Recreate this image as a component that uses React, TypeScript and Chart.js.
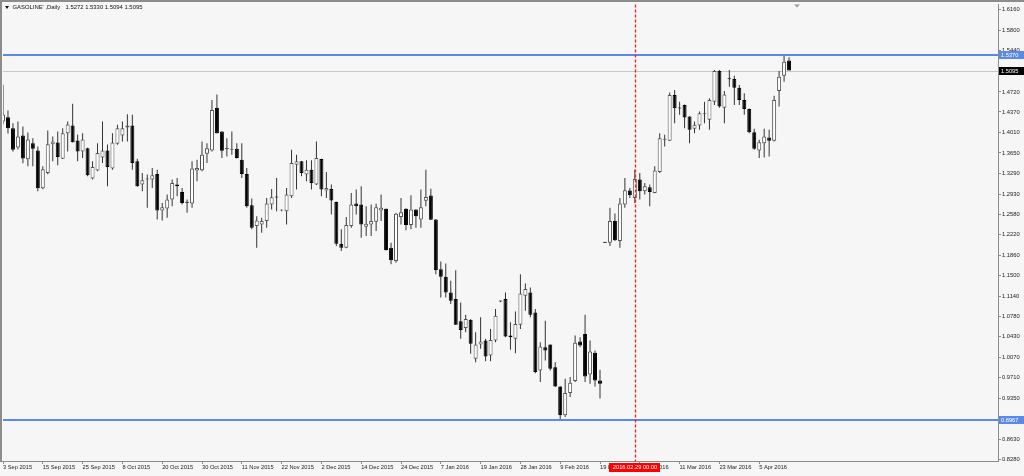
import React, { useEffect, useRef } from 'react';
import { Chart, registerables } from 'chart.js';

Chart.register(...registerables);

const FONT = "'Liberation Sans', Arial, sans-serif";

// ---- text ----
const chartTitle = "GASOLINE' ,Daily";
const titleQuote = ['1.5272', '1.5330', '1.5094', '1.5095'];

// ---- x axis ----
const slotCount = 201; // bars + empty right shift area
const xTickEvery = 8;
const xTickLabels = [
  '3 Sep 2015', '15 Sep 2015', '25 Sep 2015', '8 Oct 2015', '20 Oct 2015', '30 Oct 2015',
  '11 Nov 2015', '22 Nov 2015', '2 Dec 2015', '14 Dec 2015', '24 Dec 2015', '7 Jan 2016',
  '19 Jan 2016', '28 Jan 2016', '9 Feb 2016', '19 Feb 2016', '1 Mar 2016', '11 Mar 2016',
  '23 Mar 2016', '5 Apr 2016',
];

// ---- y axis ----
const yMin = 0.8251;
const yMax = 1.6253;
const yTickValues = [
  1.616, 1.58, 1.544, 1.508, 1.472, 1.437, 1.401, 1.365, 1.329, 1.293, 1.258, 1.222,
  1.186, 1.15, 1.114, 1.078, 1.043, 1.007, 0.971, 0.935, 0.899, 0.863, 0.828,
];

// ---- OHLC series ----
const openPrices = [
  1.4201, 1.4276, 1.4084, 1.3747, 1.3957, 1.3538, 1.3822, 1.3695, 1.3032, 1.3299,
  1.3805, 1.3835, 1.3550, 1.3997, 1.4131, 1.3869, 1.3678, 1.3735, 1.3201, 1.3341,
  1.3573, 1.3695, 1.3376, 1.3812, 1.3957, 1.4096, 1.4131, 1.3503, 1.3096, 1.3184,
  1.3184, 1.3281, 1.2643, 1.2678, 1.2835, 1.3096, 1.2967, 1.2788, 1.2765, 1.3341,
  1.3346, 1.3637, 1.3695, 1.4445, 1.4027, 1.3718, 1.3707, 1.3725, 1.3533, 1.3281,
  1.2735, 1.2369, 1.2398, 1.2456, 1.2747, 1.2875, 1.2643, 1.2630, 1.2892, 1.3445,
  1.3503, 1.3271, 1.3358, 1.3096, 1.3543, 1.2992, 1.3020, 1.2793, 1.2060, 1.1990,
  1.2369, 1.2765, 1.2747, 1.2357, 1.2398, 1.2444, 1.2643, 1.2671, 1.1990, 1.1758,
  1.2526, 1.2671, 1.2386, 1.2660, 1.2486, 1.2814, 1.2905, 1.2486, 1.1613, 1.1479,
  1.1205, 1.1090, 1.0699, 1.0584, 1.0728, 1.0043, 1.0292, 1.0362, 1.0100, 1.0362,
  1.1052, 1.1090, 1.0449, 1.0392, 1.0641, 1.1147, 1.1205, 1.0856, 0.9838, 1.0245,
  1.0292, 0.9896, 0.9559, 0.9053, 0.9442, 0.9652, 1.0345, 1.0479, 0.9769, 1.0147,
  0.9664, 1.2080, 1.2077, 1.2456, 1.2107, 1.2747, 1.2992, 1.2863, 1.3184, 1.2980,
  1.3049, 1.2950, 1.3316, 1.3882, 1.3864, 1.4667, 1.4433, 1.4492, 1.4288, 1.4074,
  1.4131, 1.4328, 1.4231, 1.4550, 1.5086, 1.4445, 1.4946, 1.4946, 1.4794, 1.4580,
  1.4423, 1.4014, 1.3695, 1.3822, 1.3922, 1.3864, 1.4737, 1.5004, 1.5272,
];
const highPrices = [
  1.4847, 1.4393, 1.4171, 1.4201, 1.4114, 1.4009, 1.3910, 1.3765, 1.3416, 1.4044,
  1.3939, 1.4027, 1.4084, 1.4201, 1.4515, 1.3974, 1.3997, 1.3740, 1.3503, 1.3822,
  1.4201, 1.3800, 1.3997, 1.4143, 1.4201, 1.4328, 1.4318, 1.3550, 1.3299, 1.3271,
  1.3386, 1.3358, 1.2775, 1.2922, 1.3184, 1.3212, 1.3037, 1.2835, 1.3503, 1.3533,
  1.3852, 1.3822, 1.4580, 1.4677, 1.4030, 1.3910, 1.4027, 1.3822, 1.3822, 1.3386,
  1.2852, 1.2543, 1.2514, 1.2863, 1.3020, 1.3212, 1.2657, 1.3037, 1.3707, 1.3620,
  1.3510, 1.3521, 1.3521, 1.3852, 1.3550, 1.3316, 1.3096, 1.2800, 1.2311, 1.2526,
  1.2950, 1.3009, 1.3067, 1.2718, 1.2747, 1.2758, 1.2922, 1.2675, 1.2077, 1.2601,
  1.2863, 1.2683, 1.2910, 1.2665, 1.3009, 1.3358, 1.3023, 1.2491, 1.1746, 1.1711,
  1.1409, 1.1596, 1.1030, 1.0816, 1.0735, 1.0507, 1.0769, 1.0392, 1.0566, 1.0915,
  1.1060, 1.1205, 1.0681, 1.0873, 1.1526, 1.1362, 1.1292, 1.0915, 1.0332, 1.0711,
  1.0295, 0.9983, 0.9565, 0.9694, 0.9722, 1.0449, 1.0420, 1.0816, 1.0362, 1.0188,
  0.9851, 1.2085, 1.2688, 1.2590, 1.2863, 1.3212, 1.3037, 1.3358, 1.3299, 1.3124,
  1.3096, 1.3416, 1.3997, 1.3969, 1.4712, 1.4754, 1.4550, 1.4498, 1.4293, 1.4201,
  1.4376, 1.4550, 1.4608, 1.5103, 1.5103, 1.4737, 1.5103, 1.5004, 1.4841, 1.4695,
  1.4428, 1.4074, 1.3882, 1.4074, 1.4056, 1.4655, 1.5086, 1.5370, 1.5330,
];
const lowPrices = [
  1.4149, 1.3992, 1.3678, 1.3712, 1.3468, 1.3416, 1.3416, 1.2980, 1.3014, 1.3276,
  1.3503, 1.3433, 1.3545, 1.3678, 1.3835, 1.3503, 1.3561, 1.3241, 1.3184, 1.3329,
  1.3473, 1.3067, 1.3358, 1.3794, 1.3852, 1.3852, 1.3358, 1.3060, 1.2980, 1.2688,
  1.3037, 1.2486, 1.2468, 1.2514, 1.2718, 1.2892, 1.2747, 1.2601, 1.2688, 1.3154,
  1.3329, 1.3473, 1.3678, 1.3990, 1.3561, 1.3590, 1.3620, 1.3555, 1.3212, 1.2688,
  1.2311, 1.1990, 1.2252, 1.2339, 1.2660, 1.2630, 1.2630, 1.2398, 1.2863, 1.3009,
  1.3241, 1.3154, 1.3009, 1.3090, 1.2892, 1.2863, 1.2573, 1.2020, 1.1932, 1.1980,
  1.2339, 1.2573, 1.2165, 1.2194, 1.2194, 1.2282, 1.2456, 1.1940, 1.1700, 1.1728,
  1.2398, 1.2294, 1.2311, 1.2339, 1.2339, 1.2718, 1.2474, 1.1526, 1.1118, 1.1118,
  1.1002, 1.0636, 1.0392, 1.0507, 1.0130, 0.9983, 1.0217, 1.0001, 1.0001, 1.0333,
  1.1040, 1.0420, 1.0200, 1.0140, 1.0566, 1.0885, 1.0769, 0.9791, 0.9634, 1.0013,
  0.9838, 0.9547, 0.8967, 0.9024, 0.9373, 0.9634, 1.0245, 0.9634, 0.9606, 0.9559,
  0.9345, 1.2070, 1.2020, 1.2107, 1.1990, 1.2688, 1.2863, 1.2775, 1.2835, 1.2922,
  1.2718, 1.2945, 1.3299, 1.3765, 1.3860, 1.4171, 1.4318, 1.4084, 1.3822, 1.3997,
  1.4056, 1.4171, 1.4056, 1.4492, 1.4445, 1.4171, 1.4812, 1.4492, 1.4492, 1.4318,
  1.3997, 1.3707, 1.3561, 1.3573, 1.3590, 1.3852, 1.4463, 1.4899, 1.5094,
];
const closePrices = [
  1.4323, 1.4084, 1.3707, 1.3939, 1.3555, 1.3887, 1.3725, 1.3032, 1.3363, 1.3805,
  1.3852, 1.3578, 1.3997, 1.4149, 1.3840, 1.3678, 1.3887, 1.3259, 1.3404, 1.3648,
  1.3695, 1.3404, 1.3835, 1.4084, 1.4084, 1.4131, 1.3473, 1.3067, 1.3171, 1.3190,
  1.3259, 1.2643, 1.2700, 1.2835, 1.3124, 1.3067, 1.2775, 1.2779, 1.3376, 1.3386,
  1.3620, 1.3735, 1.4405, 1.3997, 1.3690, 1.3721, 1.3713, 1.3561, 1.3281, 1.2718,
  1.2339, 1.2468, 1.2456, 1.2765, 1.2875, 1.2870, 1.2648, 1.2922, 1.3473, 1.3503,
  1.3299, 1.3358, 1.3124, 1.3561, 1.3009, 1.3037, 1.2817, 1.2060, 1.1990, 1.2386,
  1.2747, 1.2718, 1.2398, 1.2409, 1.2456, 1.2700, 1.2688, 1.1945, 1.1770, 1.2583,
  1.2613, 1.2386, 1.2660, 1.2543, 1.2700, 1.2880, 1.2479, 1.1601, 1.1479, 1.1205,
  1.1060, 1.0641, 1.0549, 1.0741, 1.0304, 1.0292, 1.0345, 1.0083, 1.0374, 1.0798,
  1.1048, 1.0432, 1.0420, 1.0653, 1.1188, 1.1264, 1.0816, 0.9809, 1.0257, 1.0188,
  0.9868, 0.9559, 0.9053, 0.9442, 0.9624, 1.0322, 1.0275, 0.9734, 1.0170, 0.9664,
  0.9606, 1.2075, 1.2456, 1.2119, 1.2765, 1.2997, 1.2910, 1.3194, 1.2980, 1.3067,
  1.2967, 1.3341, 1.3910, 1.3887, 1.4667, 1.4433, 1.4428, 1.4271, 1.4056, 1.4143,
  1.4346, 1.4332, 1.4580, 1.5086, 1.4463, 1.4677, 1.4943, 1.4794, 1.4580, 1.4423,
  1.4014, 1.3725, 1.3840, 1.3939, 1.3864, 1.4580, 1.4986, 1.5248, 1.5095,
];

// ---- objects on chart ----
const levelLines = [1.537, 0.8967];
const bidPrice = 1.5095;
const markerIndex = 127;
const markerLabel = '2016.02.29 00:00';
const shiftMarkerIndex = 160;

const BLUE = '#5b89e6';

const mt4Plugin = {
  id: 'mt4',
  beforeDraw(chart: any) {
    const { ctx, width, height } = chart;
    ctx.save();
    ctx.fillStyle = '#f6f6f6';
    ctx.fillRect(0, 0, width, height);
    ctx.restore();
  },
  beforeDatasetsDraw(chart: any) {
    const { ctx, chartArea: a, scales } = chart;
    const py = Math.round(scales.y.getPixelForValue(bidPrice)) + 0.5;
    ctx.save();
    ctx.strokeStyle = '#c6c6c6';
    ctx.lineWidth = 1;
    ctx.beginPath();
    ctx.moveTo(a.left, py);
    ctx.lineTo(a.right, py);
    ctx.stroke();
    ctx.restore();
  },
  afterDatasetsDraw(chart: any) {
    const { ctx, chartArea: a, scales } = chart;
    ctx.save();
    ctx.strokeStyle = BLUE;
    ctx.lineWidth = 2;
    for (const v of levelLines) {
      const py = Math.round(scales.y.getPixelForValue(v));
      ctx.beginPath();
      ctx.moveTo(a.left, py);
      ctx.lineTo(a.right, py);
      ctx.stroke();
    }
    const mx = Math.round(scales.x.getPixelForValue(markerIndex)) + 0.5;
    ctx.strokeStyle = '#ff1a1a';
    ctx.lineWidth = 1.3;
    ctx.setLineDash([3, 2]);
    ctx.beginPath();
    ctx.moveTo(mx, a.top);
    ctx.lineTo(mx, a.bottom);
    ctx.stroke();
    ctx.restore();
  },
  afterDraw(chart: any) {
    const { ctx, chartArea: a, scales, width } = chart;
    ctx.save();
    // frame
    ctx.fillStyle = '#8c8c8c';
    ctx.fillRect(0, 0, width, 2);
    ctx.fillRect(0, 0, 2, a.bottom + 1);
    ctx.fillRect(0, a.bottom, a.left, 1);

    // price boxes on the right axis
    const boxes: [number, string][] = [
      [levelLines[0], BLUE],
      [bidPrice, '#000000'],
      [levelLines[1], BLUE],
    ];
    ctx.font = `5.7px ${FONT}`;
    ctx.textBaseline = 'middle';
    ctx.textAlign = 'left';
    for (const [v, c] of boxes) {
      const py = scales.y.getPixelForValue(v);
      ctx.fillStyle = c;
      ctx.fillRect(a.right + 1, Math.round(py) - 4, 25, 8);
      ctx.fillStyle = '#ffffff';
      ctx.fillText(v.toFixed(4), a.right + 3, Math.round(py));
    }

    // time marker label
    const mx = scales.x.getPixelForValue(markerIndex);
    ctx.fillStyle = '#ff0000';
    ctx.fillRect(Math.round(mx) - 26, a.bottom + 2, 51, 9);
    ctx.fillStyle = '#ffffff';
    ctx.textAlign = 'center';
    ctx.fillText(markerLabel, Math.round(mx), a.bottom + 6.5);

    // title
    ctx.fillStyle = '#111';
    ctx.beginPath();
    ctx.moveTo(5, 6);
    ctx.lineTo(9, 6);
    ctx.lineTo(7, 9);
    ctx.closePath();
    ctx.fill();
    ctx.font = `5.9px ${FONT}`;
    ctx.textAlign = 'left';
    ctx.fillText(chartTitle, 12.5, 7.5);
    ctx.fillText(titleQuote.join(' '), 65.5, 7.5);

    // chart shift marker
    const sx = scales.x.getPixelForValue(shiftMarkerIndex) - 2;
    ctx.fillStyle = '#9a9a9a';
    ctx.beginPath();
    ctx.moveTo(sx - 3, a.top);
    ctx.lineTo(sx + 3, a.top);
    ctx.lineTo(sx, a.top + 3);
    ctx.closePath();
    ctx.fill();
    ctx.restore();
  },
};

export default function App() {
  const canvasRef = useRef<HTMLCanvasElement | null>(null);

  useEffect(() => {
    const canvas = canvasRef.current;
    if (!canvas) return;
    const labels = Array.from({ length: slotCount }, (_, i) => String(i));
    const bodies = openPrices.map((o, i) => [o, closePrices[i]]);
    const wicks = lowPrices.map((l, i) => [l, highPrices[i]]);
    const bodyFill = openPrices.map((o, i) => (closePrices[i] >= o ? '#ffffff' : '#000000'));
    const bodyBorder = openPrices.map((o, i) => (closePrices[i] >= o ? '#555555' : '#000000'));

    const chart = new Chart(canvas, {
      type: 'bar',
      data: {
        labels,
        datasets: [
          {
            label: 'body',
            data: bodies as any,
            backgroundColor: bodyFill,
            borderColor: bodyBorder,
            borderWidth: 1,
            borderSkipped: false,
            barThickness: 4,
            minBarLength: 1,
            grouped: false,
            inflateAmount: 0,
            order: 0,
          } as any,
          {
            label: 'wick',
            data: wicks as any,
            backgroundColor: '#333333',
            borderWidth: 0,
            barThickness: 1,
            minBarLength: 1,
            grouped: false,
            inflateAmount: 0,
            order: 1,
          } as any,
        ],
      },
      options: {
        responsive: false,
        animation: false,
        devicePixelRatio: 1,
        layout: { padding: { left: 3, top: 3, right: 0, bottom: 0 } },
        plugins: {
          legend: { display: false },
          tooltip: { enabled: false },
        },
        scales: {
          x: {
            type: 'category',
            offset: false,
            grid: {
              display: true,
              offset: false,
              drawOnChartArea: false,
              drawTicks: true,
              tickLength: 3,
              color: '#8c8c8c',
            },
            border: { display: true, color: '#8c8c8c' },
            ticks: {
              autoSkip: false,
              maxRotation: 0,
              minRotation: 0,
              align: 'start',
              padding: 0,
              color: '#222',
              font: { family: FONT, size: 5.7 },
              callback: (v: any) => {
                const k = Number(v) / xTickEvery;
                return xTickLabels[k] ?? '';
              },
            },
            afterBuildTicks: (scale: any) => {
              scale.ticks = xTickLabels.map((_, k) => ({ value: k * xTickEvery }));
            },
            afterFit: (scale: any) => {
              scale.height = 15;
            },
          },
          y: {
            type: 'linear',
            position: 'right',
            min: yMin,
            max: yMax,
            grid: {
              display: true,
              drawOnChartArea: false,
              drawTicks: true,
              tickLength: 3,
              color: '#8c8c8c',
            },
            border: { display: true, color: '#8c8c8c' },
            ticks: {
              autoSkip: false,
              padding: 1,
              color: '#222',
              font: { family: FONT, size: 5.8 },
              callback: (v: any) => Number(v).toFixed(4),
            },
            afterBuildTicks: (scale: any) => {
              scale.ticks = yTickValues.map((value) => ({ value }));
            },
            afterFit: (scale: any) => {
              scale.width = 26;
            },
          },
        },
      } as any,
      plugins: [mt4Plugin],
    });
    return () => chart.destroy();
  }, []);

  return (
    <div style={{ position: 'fixed', left: 0, top: 0, width: 1024, height: 476 }}>
      <canvas ref={canvasRef} width={1024} height={476} style={{ display: 'block' }} />
    </div>
  );
}
